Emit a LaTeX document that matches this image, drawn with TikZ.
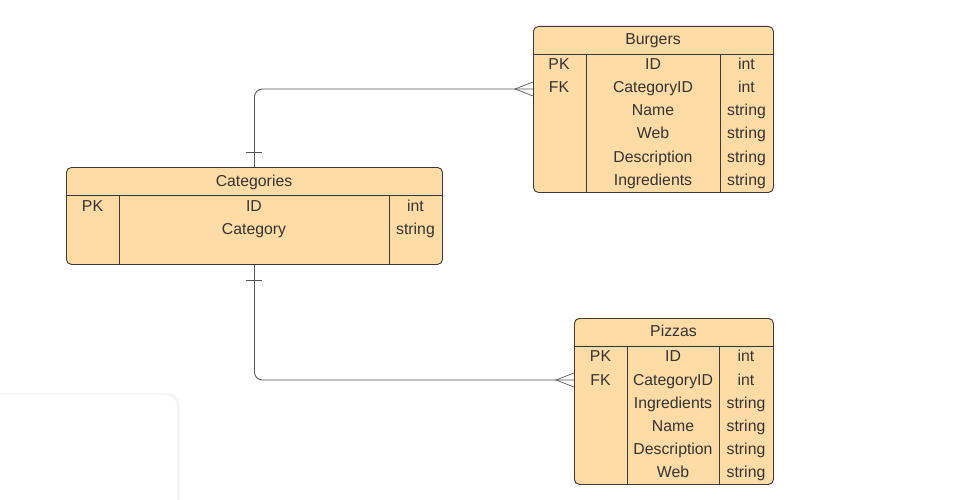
\documentclass[tikz,border=0pt]{standalone}
\usepackage{fontspec}
\setmainfont{Liberation Sans}
\usetikzlibrary{calc}
\definecolor{tfill}{HTML}{FFDBA6}
\definecolor{tline}{HTML}{3A3A3A}
\definecolor{ttext}{HTML}{333333}
\definecolor{cline}{HTML}{555555}
\tikzset{
  tbl/.style={draw=tline, fill=tfill, rounded corners=5pt, line width=0.9pt, inner sep=0pt, anchor=north west},
  sep/.style={draw=tline, line width=0.9pt},
  txt/.style={font=\fontsize{15.8}{18}\selectfont, text=ttext, inner sep=0pt, anchor=base},
  conn/.style={draw=cline, line width=0.9pt, rounded corners=8pt},
  foot/.style={draw=cline, line width=0.7pt},
}
\begin{document}
\begin{tikzpicture}[x=1pt,y=-1pt]
\useasboundingbox (0,0) rectangle (966,500);
% faint background panel
\fill[black!4, rounded corners=12pt] (-20,393) rectangle (180,520);
\fill[white, rounded corners=12pt] (-20,395) rectangle (177,520);

% ---------- Burgers ----------
\node[tbl, minimum width=240pt, minimum height=166pt] (bur) at (533,26) {};
\draw[sep] (533,54) -- (773,54);
\draw[sep] (586,54) -- (586,192);
\draw[sep] (720,54) -- (720,192);
\node[txt] (burT) at (653,45) {Burgers};
\foreach \n/\y/\k/\f/\t in {a/70/PK/ID/int, b/93/FK/CategoryID/int, c/116//Name/string, d/139//Web/string, e/162//Description/string, f/185//Ingredients/string}{
  \node[txt] (bur\n k) at (559,\y) {\k};
  \node[txt] (bur\n f) at (653,\y) {\f};
  \node[txt] (bur\n t) at (746.5,\y) {\t};
}

% ---------- Categories ----------
\node[tbl, minimum width=376pt, minimum height=97pt] (cat) at (66,167) {};
\draw[sep] (66,195) -- (442,195);
\draw[sep] (119,195) -- (119,264);
\draw[sep] (389,195) -- (389,264);
\node[txt] (catT) at (254,186) {Categories};
\node[txt] (catak) at (92.5,211) {PK};
\node[txt] (cataf) at (254,211) {ID};
\node[txt] (catat) at (415.5,211) {int};
\node[txt] (catbf) at (254,234) {Category};
\node[txt] (catbt) at (415.5,234) {string};

% ---------- Pizzas ----------
\node[tbl, minimum width=199pt, minimum height=166pt] (piz) at (574,318) {};
\draw[sep] (574,346) -- (773,346);
\draw[sep] (627,346) -- (627,484);
\draw[sep] (719,346) -- (719,484);
\node[txt] (pizT) at (673.5,336) {Pizzas};
\foreach \n/\y/\k/\f/\t in {a/361/PK/ID/int, b/385/FK/CategoryID/int, c/408//Ingredients/string, d/431//Name/string, e/454//Description/string, f/477//Web/string}{
  \node[txt] (piz\n k) at (600.5,\y) {\k};
  \node[txt] (piz\n f) at (673,\y) {\f};
  \node[txt] (piz\n t) at (746,\y) {\t};
}

% ---------- connectors ----------
\coordinate (b1) at (bur.west |- 0,89);
\coordinate (p1) at (piz.west |- 0,380);
\draw[conn] (cat.north) |- (b1);
\draw[conn] (cat.south) |- (p1);
% one-marks
\draw[foot] ($(cat.north)+(-8,-15)$) -- ($(cat.north)+(8,-15)$);
\draw[foot] ($(cat.south)+(-8,15)$) -- ($(cat.south)+(8,15)$);
% crow's feet
\draw[foot] ($(b1)+(0,-7)$) -- ($(b1)+(-18,0)$) -- ($(b1)+(0,7)$);
\draw[foot] ($(p1)+(0,-7)$) -- ($(p1)+(-18,0)$) -- ($(p1)+(0,7)$);
\end{tikzpicture}
\end{document}
